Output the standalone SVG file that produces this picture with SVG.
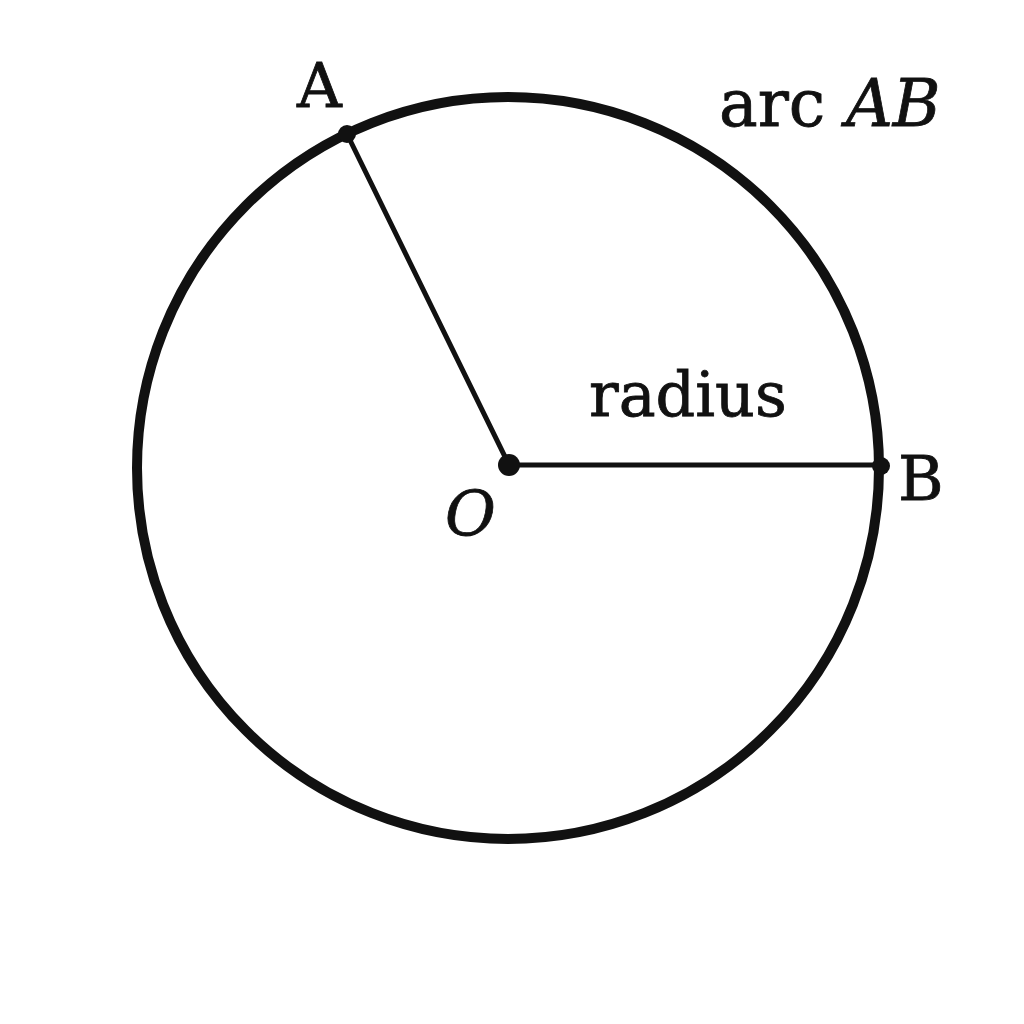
<svg xmlns="http://www.w3.org/2000/svg" width="1024" height="1024" viewBox="0 0 1024 1024">
<style>
.t{font-family:"DejaVu Serif","Liberation Serif",serif;font-size:62px;fill:#111;stroke:#111;stroke-width:0.8}
.i{font-style:italic}
.ln{stroke:#111;stroke-width:5;fill:none;stroke-linecap:round}
.pt{fill:#111}
</style>
<rect width="1024" height="1024" fill="#fff"/>
<g id="circle"><circle cx="508" cy="468" r="371" fill="none" stroke="#111" stroke-width="10"/></g>
<g id="connectors">
<line class="ln" x1="509" y1="465" x2="347" y2="134"/>
<line class="ln" x1="509" y1="465" x2="881" y2="465"/>
</g>
<g id="A"><circle class="pt" cx="347" cy="134" r="9"/><text class="t" x="297" y="107">A</text></g>
<g id="O"><circle class="pt" cx="509" cy="465" r="11"/><text class="t i" x="445" y="535">O</text></g>
<g id="B"><circle class="pt" cx="881" cy="466" r="9"/><text class="t" x="898" y="500">B</text></g>
<text class="t" x="589" y="416">radius</text>
<text class="t" x="719" y="126" style="font-size:65px">arc <tspan class="i">AB</tspan></text>
</svg>
